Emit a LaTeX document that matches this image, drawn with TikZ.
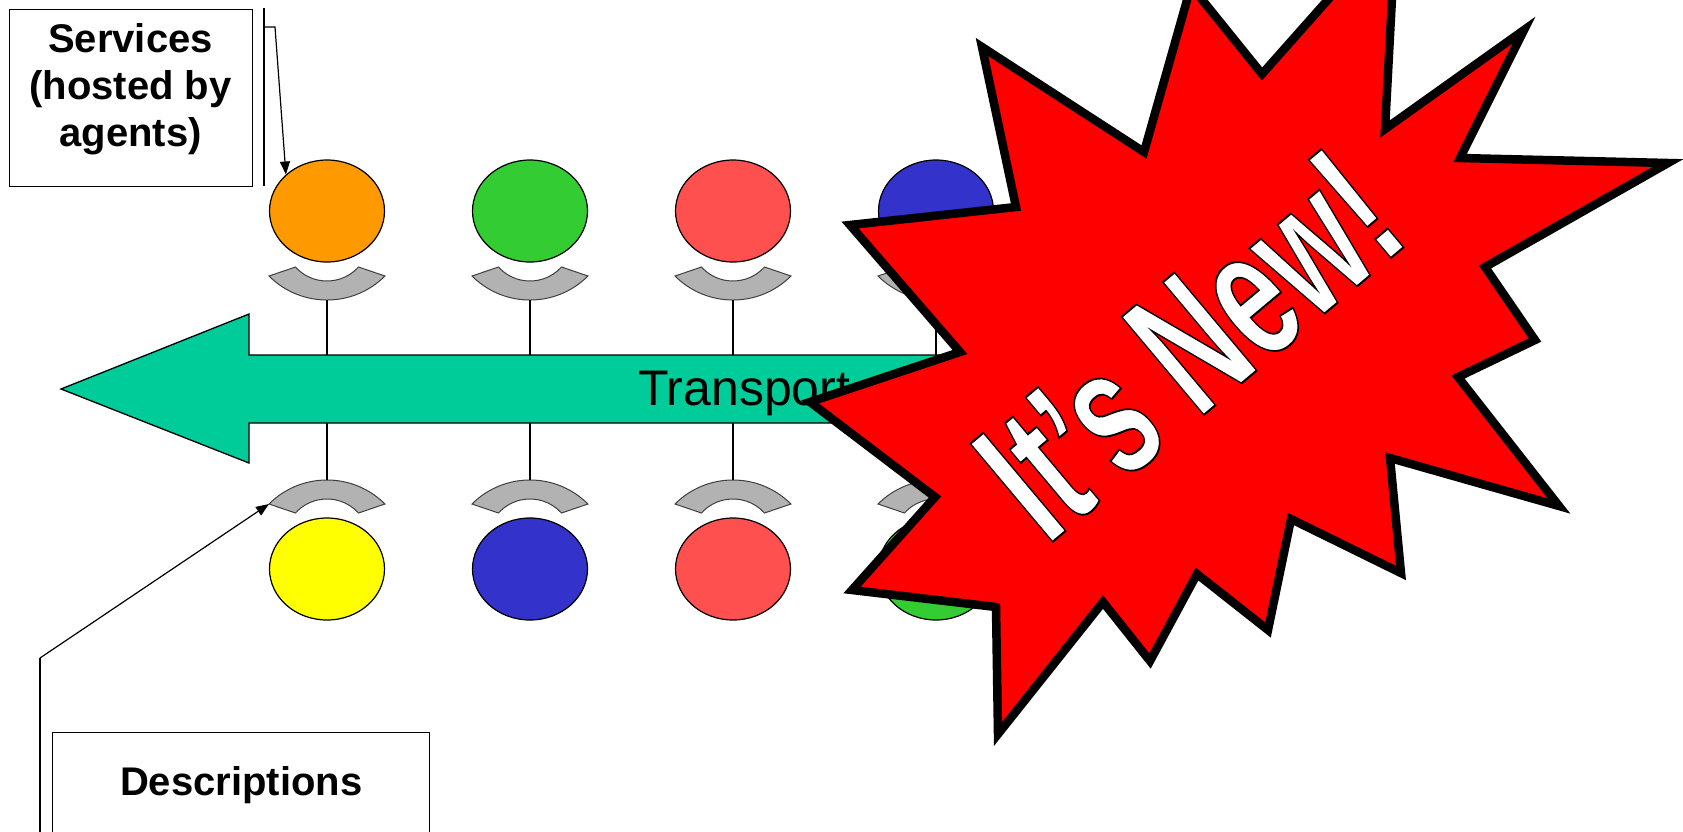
\documentclass[tikz,border=0pt]{standalone}
\usepackage{fontspec}
\setmainfont{Liberation Sans}
\usetikzlibrary{shapes.geometric,arrows.meta}
\definecolor{orng}{HTML}{FF9900}
\definecolor{grn}{HTML}{33CC33}
\definecolor{slmn}{HTML}{FF5050}
\definecolor{blu}{HTML}{3333CC}
\definecolor{ylw}{HTML}{FFFF00}
\definecolor{tealarrow}{HTML}{00CC99}
\definecolor{arcgray}{HTML}{B2B2B2}
\newcommand\outl[1]{\special{pdf:literal direct 0 0 0 RG 2 Tr 2 w}#1\special{pdf:literal direct 0 Tr}}
\begin{document}
\begin{tikzpicture}[x=1pt,y=-1pt,
  bubble/.style={ellipse, draw=black, line width=1.2pt, minimum width=115pt, minimum height=102pt, inner sep=0pt},
  callbox/.style={draw=black, line width=1.3pt, inner sep=0pt},
  leader/.style={line width=1.2pt, -{Triangle[length=13pt,width=10pt]}},
  stem/.style={line width=1.3pt},
  arcshape/.style={fill=arcgray, draw=black!75, line width=1pt},
  cup up/.pic={
    \path[arcshape] (-58,-24) arc[start angle=135, end angle=45, radius=82]
      -- (31.5,-33) arc[start angle=42, end angle=138, radius=42.4] -- cycle;
    \coordinate (-b) at (0,0);
    \coordinate (-l) at (-58,-24);
  },
  cup down/.pic={
    \path[arcshape] (-58,24) arc[start angle=-135, end angle=-45, radius=82]
      -- (31.5,33) arc[start angle=-42, end angle=-138, radius=42.4] -- cycle;
    \coordinate (-b) at (0,0);
    \coordinate (-l) at (-58,24);
  }
]
\useasboundingbox (0,0) rectangle (1683,831);
\clip (0,0) rectangle (1683,831);
\fill[white] (0,0) rectangle (1683,831);

% columns of services and descriptions
\foreach \i/\cx/\cu/\cd in {1/327/orng/ylw, 2/530/grn/blu, 3/733/slmn/slmn, 4/936/blu/grn}{
  \node[bubble, fill=\cu] (u\i) at (\cx,211) {};
  \node[bubble, fill=\cd] (d\i) at (\cx,569) {};
  \pic (au\i) at (\cx,300) {cup up};
  \pic (ad\i) at (\cx,480) {cup down};
  \coordinate (tu\i) at (\cx,355);
  \coordinate (td\i) at (\cx,423);
  \draw[stem] (au\i-b) -- (tu\i);
  \draw[stem] (ad\i-b) -- (td\i);
}

% transport arrow
\draw[fill=tealarrow, line width=1.3pt, line join=miter]
  (61,389) -- (249,314) -- (249,355) -- (1000,355) -- (1000,423) -- (249,423) -- (249,463) -- cycle;
\node[font=\fontsize{50}{60}\selectfont, anchor=base west, inner sep=0pt] (tr) at (638,405) {Transport};

% services callout
\node[callbox, minimum width=243pt, minimum height=177pt, anchor=north west] (svcbox) at (9,9) {};
\node[font=\bfseries\fontsize{40}{47}\selectfont, align=center, inner sep=0pt] (svc) at (130.5,89.5) {Services\\(hosted by\\agents)};
\coordinate (sb1) at (264,8);
\coordinate (sb2) at (264,186);
\draw[stem] (sb1) -- (sb2);
\coordinate (sl1) at (264,27);
\coordinate (sl2) at (275,27);
\draw[leader] (sl1) -- (sl2) -- (u1.north west);

% descriptions callout
\node[callbox, minimum width=377pt, anchor=north west, inner xsep=0pt, inner ysep=34pt,
      text height=29pt, text depth=70pt, font=\bfseries\fontsize{40}{48}\selectfont] (desc) at (52,732) {Descriptions};
\coordinate (db1) at (40,658);
\coordinate (db2) at (40,850);
\draw[stem] (db2) -- (db1);
\draw[leader] (db1) -- (ad1-l);

% starburst
\draw[fill=red, line width=8.5pt, line join=miter, miter limit=20]
  (850,225) -- (1016,207) -- (982,47) -- (1144,152) -- (1191,-14) -- (1262,74)
  -- (1396,-77) -- (1385,129) -- (1524,30) -- (1460,158) -- (1668,163) -- (1485,267)
  -- (1535,340) -- (1458,377) -- (1559,506) -- (1390,458) -- (1401,573) -- (1291,519)
  -- (1268,630) -- (1197,574) -- (1150,661) -- (1103,602) -- (998,734) -- (996,607)
  -- (852,590) -- (935,497) -- (810,402) -- (960,352) -- cycle;
\begin{scope}[shift={(1189,345)}]
  \node[transform shape, rotate=40, xscale=0.63, inner sep=0pt, text=white,
        font=\bfseries\fontsize{186}{200}\selectfont] (new) at (0,0) {\outl{It's New!}};
\end{scope}
\end{tikzpicture}
\end{document}
